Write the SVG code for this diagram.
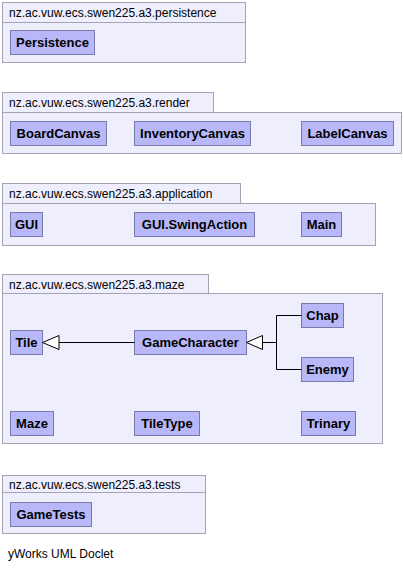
<svg xmlns="http://www.w3.org/2000/svg" width="404" height="572" viewBox="0 0 404 572">
<style>
.pkg{fill:#eeeefc;stroke:#a3a3b3;stroke-width:1}
.cls{fill:#b8b8f8;stroke:#7a7aaa;stroke-width:1}
.pl{font-family:"Liberation Sans",Arial,sans-serif;font-size:12px;fill:#000}
.cl{font-family:"Liberation Sans",Arial,sans-serif;font-size:13px;font-weight:bold;fill:#000;text-anchor:middle}
.edge{fill:none;stroke:#000;stroke-width:1}
.tri{fill:#fff;stroke:#000;stroke-width:1}
</style>
<rect width="404" height="572" fill="#fff"/>
<g id="pkg-persistence">
<rect class="pkg" x="2.5" y="2.5" width="243" height="20"/>
<rect class="pkg" x="2.5" y="22.5" width="243" height="40"/>
<text class="pl" x="9" y="17">nz.ac.vuw.ecs.swen225.a3.persistence</text>
</g>
<g id="Persistence"><rect class="cls" x="10.5" y="30.5" width="84" height="24"/><text class="cl" x="52.5" y="47">Persistence</text></g>

<g id="pkg-render">
<rect class="pkg" x="2.5" y="92.5" width="211" height="20"/>
<rect class="pkg" x="2.5" y="112.5" width="399" height="41"/>
<text class="pl" x="9" y="107">nz.ac.vuw.ecs.swen225.a3.render</text>
</g>
<g id="BoardCanvas"><rect class="cls" x="10.5" y="121.5" width="96" height="24"/><text class="cl" x="58.5" y="138">BoardCanvas</text></g>
<g id="InventoryCanvas"><rect class="cls" x="134.5" y="121.5" width="116" height="24"/><text class="cl" x="192.5" y="138">InventoryCanvas</text></g>
<g id="LabelCanvas"><rect class="cls" x="301.5" y="121.5" width="92" height="24"/><text class="cl" x="347.5" y="138">LabelCanvas</text></g>

<g id="pkg-application">
<rect class="pkg" x="2.5" y="183.5" width="238" height="20"/>
<rect class="pkg" x="2.5" y="203.5" width="373" height="42"/>
<text class="pl" x="9" y="198">nz.ac.vuw.ecs.swen225.a3.application</text>
</g>
<g id="GUI"><rect class="cls" x="10.5" y="212.5" width="32" height="24"/><text class="cl" x="26.5" y="229">GUI</text></g>
<g id="GUI.SwingAction"><rect class="cls" x="134.5" y="212.5" width="120" height="24"/><text class="cl" x="194.5" y="229">GUI.SwingAction</text></g>
<g id="Main"><rect class="cls" x="301.5" y="212.5" width="40" height="24"/><text class="cl" x="321.5" y="229">Main</text></g>

<g id="pkg-maze">
<rect class="pkg" x="2.5" y="274.5" width="206" height="19"/>
<rect class="pkg" x="2.5" y="293.5" width="380" height="150"/>
<text class="pl" x="9" y="289">nz.ac.vuw.ecs.swen225.a3.maze</text>
</g>
<g id="Tile"><rect class="cls" x="10.5" y="330.5" width="32" height="24"/><text class="cl" x="26.5" y="347">Tile</text></g>
<g id="GameCharacter"><rect class="cls" x="134.5" y="330.5" width="112" height="24"/><text class="cl" x="190.5" y="347">GameCharacter</text></g>
<g id="Chap"><rect class="cls" x="301.5" y="303.5" width="42" height="24"/><text class="cl" x="322.5" y="320">Chap</text></g>
<g id="Enemy"><rect class="cls" x="301.5" y="357.5" width="52" height="24"/><text class="cl" x="327.5" y="374">Enemy</text></g>
<g id="Maze"><rect class="cls" x="10.5" y="411.5" width="43" height="24"/><text class="cl" x="32" y="428">Maze</text></g>
<g id="TileType"><rect class="cls" x="134.5" y="411.5" width="65" height="24"/><text class="cl" x="167" y="428">TileType</text></g>
<g id="Trinary"><rect class="cls" x="301.5" y="411.5" width="54" height="24"/><text class="cl" x="328.5" y="428">Trinary</text></g>

<g id="connectors">
<path class="edge" d="M59,342.5 H134.5"/>
<polygon class="tri" points="42.5,342.5 59,335.5 59,349.5"/>
<path class="edge" d="M262.5,342.5 H276.5 M276.5,315.5 V369.5 M276.5,315.5 H301.5 M276.5,369.5 H301.5"/>
<polygon class="tri" points="246.5,342.5 262.5,335.5 262.5,349.5"/>
</g>

<g id="pkg-tests">
<rect class="pkg" x="2.5" y="475.5" width="203" height="17"/>
<rect class="pkg" x="2.5" y="492.5" width="203" height="41"/>
<text class="pl" x="9" y="489">nz.ac.vuw.ecs.swen225.a3.tests</text>
</g>
<g id="GameTests"><rect class="cls" x="10.5" y="502.5" width="81" height="24"/><text class="cl" x="51" y="519">GameTests</text></g>

<text class="pl" x="8" y="558">yWorks UML Doclet</text>
</svg>
